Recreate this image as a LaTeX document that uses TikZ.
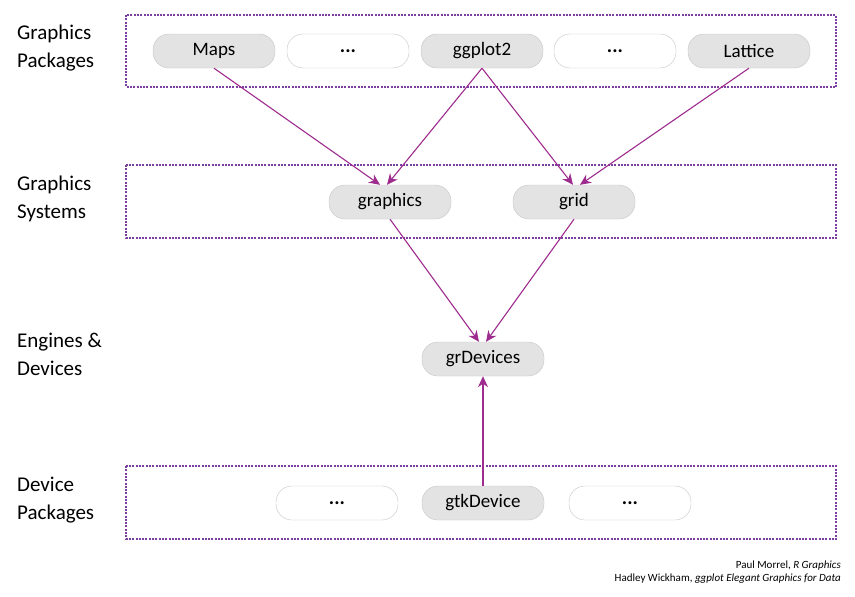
\documentclass[tikz,border=0pt]{standalone}
\usepackage{fontspec}
\setmainfont{Carlito}
\usepackage{xcolor}
\usetikzlibrary{arrows.meta}

\definecolor{boxpurple}{HTML}{7B3FA0}
\definecolor{arrowpurple}{HTML}{9E2B8E}
\definecolor{pillgray}{HTML}{E3E3E3}
\definecolor{pillline}{HTML}{C4C4C4}

\begin{document}
\begin{tikzpicture}[x=1pt,y=-1pt,
  pkg/.style={draw=pillline, fill=pillgray, rounded corners=16pt, minimum width=122pt,
    minimum height=34pt, inner sep=0pt, font=\fontsize{19}{21}\selectfont},
  etc/.style={pkg, fill=white, font=\bfseries\fontsize{20}{21}\selectfont},
  layer/.style={draw=boxpurple, line width=1.2pt, dash pattern=on 2pt off 1.3pt},
  lbl/.style={anchor=base west, align=left, inner sep=0pt, font=\fontsize{21}{28}\selectfont},
  dep/.style={draw=arrowpurple, line width=1.1pt, -{Stealth[length=11pt,width=10pt]}}]
\useasboundingbox (0,0) rectangle (855,597);

% layers
\draw[layer] (126,15) rectangle (836,87);
\draw[layer] (126,165) rectangle (836,238);
\draw[layer] (126,466) rectangle (836,539);

\node[lbl] (l1) at (17,67) {Graphics\\Packages};
\node[lbl] (l2) at (17,218) {Graphics\\Systems};
\node[lbl] (l3) at (17,375) {Engines \&\\Devices};
\node[lbl] (l4) at (17,519) {Device\\Packages};

% packages
\node[pkg] (maps) at (214,51) {Maps};
\node[etc] (etc1) at (348,51) {...};
\node[pkg] (ggplot) at (482,51) {ggplot2};
\node[etc] (etc2) at (615,51) {...};
\node[pkg] (lattice) at (749,51) {Lattice};

% systems
\node[pkg] (graphics) at (390,202) {graphics};
\node[pkg] (grid) at (574,202) {grid};

\node[pkg] (grdev) at (483,359) {grDevices};

% devices
\node[etc] (etc3) at (337,503) {...};
\node[pkg] (gtk) at (483,503) {gtkDevice};
\node[etc] (etc4) at (630,503) {...};

\draw[dep] (maps.south) -- ([xshift=-10pt]graphics.north);
\draw[dep] (ggplot.south) -- ([xshift=-3pt]graphics.north);
\draw[dep] (ggplot.south) -- ([xshift=-1pt]grid.north);
\draw[dep] (lattice.south) -- ([xshift=6pt]grid.north);
\draw[dep] (graphics.south) -- ([xshift=-4pt]grdev.north);
\draw[dep] (grid.south) -- ([xshift=3pt]grdev.north);
\draw[dep] (gtk.north) -- (grdev.south);

\node[anchor=base east, align=right, inner sep=0pt, font=\fontsize{11}{13}\selectfont] (refs) at (841,581)
  {Paul Morrel, \textit{R Graphics}\\Hadley Wickham, \textit{ggplot Elegant Graphics for Data}};
\end{tikzpicture}
\end{document}
